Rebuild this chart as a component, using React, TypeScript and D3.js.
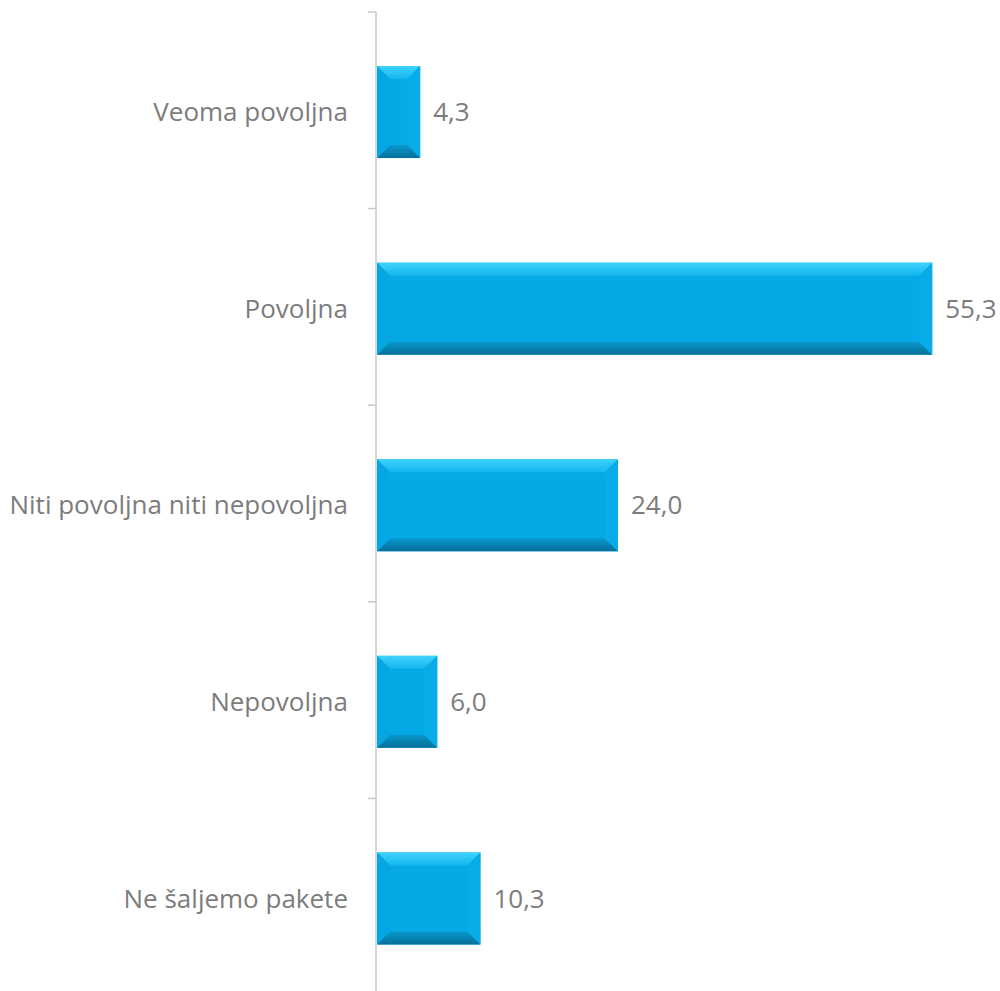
import React from "react";
import * as d3 from "d3";

const categories = ["Veoma povoljna", "Povoljna", "Niti povoljna niti nepovoljna", "Nepovoljna", "Ne šaljemo pakete"];
const values = [4.3, 55.3, 24.0, 6.0, 10.3];
const valueLabels = ["4,3", "55,3", "24,0", "6,0", "10,3"];

const W = 1000;
const H = 991;
const x0 = 377;
const top = 12;
const bottom = 995;

export default function App() {
  const x = d3.scaleLinear().domain([0, 60]).range([x0, x0 + 602.4]);
  const band = d3.scaleBand<string>().domain(categories).range([top, bottom]).padding(0);
  const step = band.step();
  const barOff = step * 0.275;
  const bw = step * 0.468;
  const bev = 13;
  const ticks = d3.range(categories.length + 1).map((i) => top + i * step);
  const font = "'Open Sans', sans-serif";
  return (
    <svg width={W} height={H} style={{ position: "absolute", left: 0, top: 0 }}>
      <defs>
        <linearGradient id="topG" x1="0" y1="0" x2="0" y2="1">
          <stop offset="0" stopColor="#40d2fc" />
          <stop offset="1" stopColor="#14b6ee" />
        </linearGradient>
        <linearGradient id="botG" x1="0" y1="0" x2="0" y2="1">
          <stop offset="0" stopColor="#0898cd" />
          <stop offset="1" stopColor="#066f98" />
        </linearGradient>
      </defs>
      <rect width={W} height={H} fill="#ffffff" />
      <line x1={x0 - 1} x2={x0 - 1} y1={top} y2={H} stroke="#c8c8c8" strokeWidth={1.5} />
      {ticks.map((t, i) => (
        <line key={i} x1={x0 - 9} x2={x0 - 1} y1={t} y2={t} stroke="#c8c8c8" strokeWidth={1.5} />
      ))}
      {categories.map((c, i) => {
        const yy = band(c)! + barOff;
        const x1 = x(0);
        const x2 = x(values[i]);
        const b = Math.min(bev, (x2 - x1) / 2);
        const y1 = yy;
        const y2 = yy + bw;
        return (
          <g key={c}>
            <rect x={x1} y={y1} width={x2 - x1} height={bw} fill="#04a9e6" />
            <polygon points={`${x1},${y1} ${x2},${y1} ${x2 - b},${y1 + bev} ${x1 + b},${y1 + bev}`} fill="url(#topG)" />
            <polygon points={`${x1},${y2} ${x2},${y2} ${x2 - b},${y2 - bev} ${x1 + b},${y2 - bev}`} fill="url(#botG)" />
            <polygon points={`${x1},${y1} ${x1 + b},${y1 + bev} ${x1 + b},${y2 - bev} ${x1},${y2}`} fill="#05a6e2" />
            <polygon points={`${x2},${y1} ${x2 - b},${y1 + bev} ${x2 - b},${y2 - bev} ${x2},${y2}`} fill="#07ace9" />
            <text x={x1 - 29} y={yy + bw / 2} dy="0.35em" textAnchor="end" fontFamily={font} fontSize={26} fill="#7c7c7c">
              {c}
            </text>
            <text x={x2 + 13} y={yy + bw / 2} dy="0.35em" textAnchor="start" fontFamily={font} fontSize={26} fill="#7c7c7c">
              {valueLabels[i]}
            </text>
          </g>
        );
      })}
    </svg>
  );
}
